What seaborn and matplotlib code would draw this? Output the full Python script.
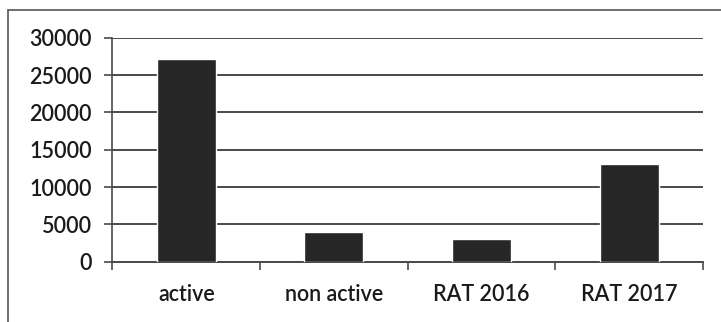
import matplotlib
matplotlib.use("Agg")
import matplotlib.pyplot as plt
import seaborn as sns
import pandas as pd
from matplotlib.patches import Rectangle

categories = ["active", "non active", "RAT 2016", "RAT 2017"]
values = [27100, 4000, 3100, 13100]
yticks = [0, 5000, 10000, 15000, 20000, 25000, 30000]

sns.set_style("white")
plt.rcParams['font.family'] = ['Lato', 'DejaVu Sans']

df = pd.DataFrame({"cat": categories, "val": values})

fig = plt.figure(figsize=(7.21, 3.22), dpi=100)
ax = fig.add_axes([0.156, 0.187, 0.819, 0.696])
sns.barplot(data=df, x="cat", y="val", color="#262626", saturation=1,
            width=0.4, ax=ax, zorder=3)

ax.set_ylim(0, 30000)
ax.set_xlim(-0.5, 3.5)
ax.set_yticks(yticks)
ax.set_yticklabels([str(t) for t in yticks], fontsize=15.5, fontweight="semibold",
                   color="#1a1a1a")
ax.yaxis.grid(True, color="#4a4a4a", linewidth=1.4, zorder=0)
ax.set_axisbelow(True)
ax.tick_params(axis="y", length=6, width=1.2, color="#4a4a4a", pad=9, left=True)
ax.set_xticks(range(len(categories)))
ax.set_xticklabels(categories, fontsize=15.5, fontweight="semibold", color="#1a1a1a")
ax.set_xticks([-0.5, 0.5, 1.5, 2.5, 3.5], minor=True)
ax.tick_params(axis="x", which="major", length=0, pad=16)
ax.tick_params(axis="x", which="minor", length=6, width=1.2, color="#4a4a4a", bottom=True)
ax.set_xlabel("")
ax.set_ylabel("")
for s in ["top", "right"]:
    ax.spines[s].set_visible(False)
ax.spines["left"].set_color("#4a4a4a")
ax.spines["left"].set_linewidth(1.2)
ax.spines["bottom"].set_color("#4a4a4a")
ax.spines["bottom"].set_linewidth(1.4)

fig.patches.append(Rectangle((8/721, -0.1), 1.2, 1 - 10/322 + 0.1,
                             transform=fig.transFigure, fill=False,
                             edgecolor="#555555", linewidth=1.2))

fig.savefig("out.png", dpi=100)
